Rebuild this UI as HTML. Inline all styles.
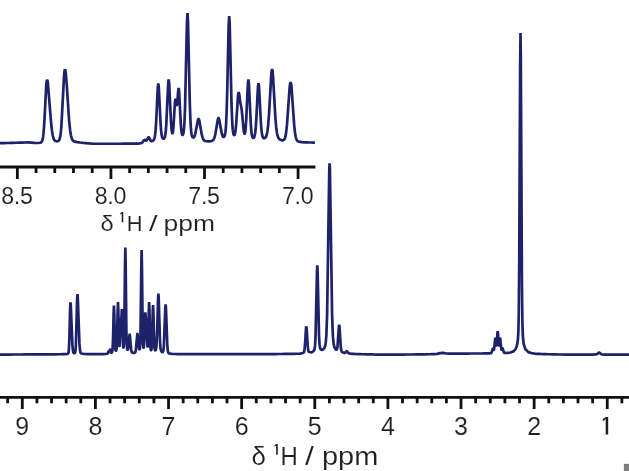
<!DOCTYPE html>
<html lang="en"><head><meta charset="utf-8"><title>1H NMR spectrum</title>
<style>
html,body{margin:0;padding:0;background:#fff;}
body{width:629px;height:471px;overflow:hidden;}
svg{display:block;}
</style></head><body>
<svg width="629" height="471" viewBox="0 0 629 471">
<rect width="629" height="471" fill="#ffffff"/>
<g stroke="#111" stroke-width="2.8" fill="none" stroke-linecap="butt">
<path d="M0 167 H315.4"/>
<path d="M17.35 167 V179.0 M36.06 167 V173.0 M54.78 167 V173.0 M73.50 167 V173.0 M92.21 167 V173.0 M110.93 167 V179.0 M129.64 167 V173.0 M148.35 167 V173.0 M167.07 167 V173.0 M185.78 167 V173.0 M204.50 167 V179.0 M223.22 167 V173.0 M241.93 167 V173.0 M260.65 167 V173.0 M279.36 167 V173.0 M298.08 167 V179.0"/>
<path d="M0 397.3 H629"/>
<path d="M7.68 397.3 V403.3 M22.30 397.3 V409.1 M36.92 397.3 V403.3 M51.55 397.3 V403.3 M66.17 397.3 V403.3 M80.80 397.3 V403.3 M95.42 397.3 V409.1 M110.04 397.3 V403.3 M124.67 397.3 V403.3 M139.29 397.3 V403.3 M153.92 397.3 V403.3 M168.54 397.3 V409.1 M183.16 397.3 V403.3 M197.79 397.3 V403.3 M212.41 397.3 V403.3 M227.04 397.3 V403.3 M241.66 397.3 V409.1 M256.28 397.3 V403.3 M270.91 397.3 V403.3 M285.53 397.3 V403.3 M300.16 397.3 V403.3 M314.78 397.3 V409.1 M329.40 397.3 V403.3 M344.03 397.3 V403.3 M358.65 397.3 V403.3 M373.28 397.3 V403.3 M387.90 397.3 V409.1 M402.52 397.3 V403.3 M417.15 397.3 V403.3 M431.77 397.3 V403.3 M446.40 397.3 V403.3 M461.02 397.3 V409.1 M475.64 397.3 V403.3 M490.27 397.3 V403.3 M504.89 397.3 V403.3 M519.52 397.3 V403.3 M534.14 397.3 V409.1 M548.76 397.3 V403.3 M563.39 397.3 V403.3 M578.01 397.3 V403.3 M592.64 397.3 V403.3 M607.26 397.3 V409.1 M621.88 397.3 V403.3"/>
</g>
<g stroke="#1d226a" stroke-width="2.7" fill="none" stroke-linejoin="bevel" stroke-linecap="butt">
<path d="M-2.00 143.16 L1.00 143.13 L4.00 143.06 L7.00 142.98 L10.00 142.91 L13.00 142.83 L16.10 142.74 L19.10 142.66 L22.10 142.58 L25.20 142.49 L28.20 142.39 L31.20 142.55 L34.30 142.80 L37.40 142.98 L40.10 142.77 L41.00 142.39 L41.50 141.96 L41.90 141.38 L42.30 140.45 L42.70 138.96 L43.10 136.70 L43.60 132.39 L44.30 122.96 L46.20 86.11 L46.50 82.31 L47.01 79.69 L47.50 80.80 L47.90 83.27 L50.90 120.71 L51.90 130.25 L52.70 135.22 L53.40 137.97 L54.00 139.44 L54.60 140.33 L55.40 140.96 L56.80 141.29 L57.90 141.14 L58.50 140.83 L59.00 140.30 L59.40 139.57 L59.80 138.43 L60.30 136.16 L60.80 132.58 L61.40 126.04 L64.00 76.59 L64.40 71.61 L64.90 69.24 L65.40 70.56 L65.80 73.39 L66.80 85.74 L69.10 120.28 L70.10 130.21 L70.90 135.26 L71.60 138.01 L72.20 139.48 L72.90 140.50 L74.00 141.34 L77.10 142.12 L80.10 142.50 L83.20 142.82 L86.30 143.10 L89.40 143.36 L92.40 143.60 L95.50 143.73 L98.60 143.74 L101.70 143.75 L104.80 143.75 L107.90 143.75 L110.90 143.75 L114.00 143.74 L117.10 143.74 L120.20 143.73 L123.20 143.71 L126.30 143.70 L129.40 143.67 L132.50 143.64 L135.60 143.60 L138.70 143.53 L141.40 143.11 L142.20 142.65 L144.10 140.17 L144.40 139.93 L144.70 139.84 L145.00 139.91 L146.00 140.57 L146.30 140.62 L146.50 140.55 L146.80 140.29 L148.20 137.56 L148.40 137.33 L148.60 137.23 L148.80 137.27 L149.00 137.45 L150.50 140.37 L150.90 140.85 L151.30 141.09 L151.80 141.14 L152.80 140.79 L153.50 140.23 L153.90 139.66 L154.30 138.75 L154.70 137.27 L155.10 134.90 L155.60 130.14 L156.20 121.05 L157.70 88.92 L157.80 87.36 L158.30 83.53 L158.80 87.25 L160.60 123.95 L161.10 130.57 L161.50 134.05 L161.90 136.27 L162.30 137.58 L162.60 138.16 L162.90 138.50 L163.20 138.67 L163.50 138.70 L163.80 138.61 L164.10 138.38 L164.40 137.97 L164.70 137.31 L165.00 136.30 L165.40 134.17 L165.80 130.79 L166.30 124.28 L168.10 85.18 L168.20 83.54 L168.70 79.49 L169.20 83.42 L170.90 120.24 L171.40 127.58 L171.80 131.25 L172.00 132.40 L172.20 133.09 L172.30 133.28 L172.40 133.35 L172.50 133.30 L172.60 133.15 L172.80 132.48 L173.10 130.56 L173.50 126.23 L174.90 102.97 L175.10 100.90 L175.30 99.73 L175.40 99.49 L175.50 99.47 L175.60 99.65 L175.80 100.51 L176.40 104.37 L176.60 105.14 L176.70 105.30 L176.80 105.28 L176.90 105.09 L177.10 104.13 L177.40 101.38 L178.10 91.91 L178.65 88.01 L179.10 91.03 L180.80 123.98 L181.30 130.00 L181.70 132.89 L182.00 134.16 L182.20 134.66 L182.40 134.94 L182.50 134.99 L182.60 135.00 L182.70 134.96 L182.90 134.73 L183.10 134.30 L183.40 133.21 L183.70 131.42 L184.10 127.55 L184.50 121.29 L185.00 108.93 L186.90 24.78 L187.00 21.38 L187.50 13.12 L188.00 21.46 L189.80 102.76 L190.30 117.54 L190.80 126.92 L191.20 131.46 L191.60 134.23 L192.00 135.86 L192.40 136.80 L192.80 137.31 L193.10 137.49 L193.40 137.52 L193.70 137.41 L194.10 137.03 L194.60 136.14 L195.20 134.37 L197.80 120.66 L198.10 119.62 L198.30 119.18 L198.40 119.04 L198.50 118.97 L198.60 118.95 L198.70 119.00 L198.90 119.27 L199.20 120.10 L201.90 135.18 L202.70 137.99 L203.40 139.48 L204.10 140.34 L205.30 140.99 L208.40 141.33 L211.50 141.04 L212.60 140.57 L213.30 139.94 L213.90 139.01 L214.50 137.53 L215.30 134.44 L217.70 120.09 L218.00 118.92 L218.20 118.39 L218.40 118.11 L218.50 118.06 L218.60 118.08 L218.70 118.15 L218.90 118.49 L219.20 119.41 L221.60 132.72 L222.30 135.23 L222.80 136.33 L223.20 136.82 L223.50 136.99 L223.80 136.99 L224.10 136.80 L224.40 136.40 L224.70 135.72 L225.00 134.65 L225.30 133.01 L225.70 129.56 L226.10 123.99 L226.60 112.87 L227.30 87.84 L228.60 27.47 L228.70 24.14 L229.20 16.00 L229.70 24.07 L231.50 103.16 L232.00 117.48 L232.40 125.06 L232.80 129.92 L233.20 132.81 L233.50 134.09 L233.70 134.62 L233.90 134.95 L234.10 135.10 L234.20 135.11 L234.40 135.01 L234.60 134.73 L234.90 133.96 L235.20 132.70 L235.60 130.11 L236.20 123.94 L237.90 97.11 L238.20 93.91 L238.65 92.04 L239.20 94.27 L240.20 102.15 L241.40 107.83 L241.90 111.52 L243.50 128.95 L243.90 131.84 L244.20 133.20 L244.40 133.70 L244.50 133.82 L244.60 133.85 L244.70 133.80 L244.80 133.65 L245.00 133.07 L245.30 131.43 L245.70 127.67 L246.30 118.35 L247.80 84.84 L247.90 83.24 L248.40 79.38 L248.90 83.31 L250.70 122.39 L251.20 129.53 L251.60 133.27 L252.00 135.63 L252.30 136.73 L252.60 137.41 L252.90 137.80 L253.20 137.97 L253.50 137.95 L253.80 137.76 L254.10 137.35 L254.40 136.69 L254.80 135.24 L255.20 132.91 L255.70 128.27 L256.40 117.87 L257.80 89.46 L258.00 86.50 L258.50 83.13 L259.00 86.48 L260.90 122.83 L261.50 130.30 L262.00 134.13 L262.40 135.99 L262.80 137.12 L263.20 137.77 L263.60 138.10 L264.10 138.25 L264.70 138.14 L265.30 137.73 L265.80 137.09 L266.30 136.05 L266.80 134.44 L267.40 131.41 L268.10 125.82 L269.00 114.58 L271.20 75.85 L271.60 71.31 L272.10 69.14 L272.60 71.35 L273.00 75.92 L275.40 117.80 L276.20 127.18 L276.90 132.51 L277.50 135.42 L278.10 137.26 L278.80 138.54 L279.80 139.51 L281.80 140.29 L283.00 140.30 L283.60 140.07 L284.10 139.65 L284.60 138.89 L285.10 137.63 L285.60 135.67 L286.20 132.08 L287.00 124.67 L289.60 87.97 L290.00 84.33 L290.10 83.68 L290.60 82.17 L291.10 83.73 L291.50 87.02 L294.20 125.11 L295.00 132.63 L295.70 136.80 L296.30 138.98 L296.90 140.28 L297.50 141.02 L298.70 141.68 L301.80 142.13 L304.90 142.31 L308.00 142.42 L311.10 142.49 L314.10 142.54 L314.90 142.55"/>
<path d="M-2.00 354.59 L1.00 354.59 L4.00 354.57 L7.00 354.55 L10.00 354.54 L13.00 354.52 L16.05 354.51 L19.05 354.49 L22.05 354.48 L25.05 354.46 L28.10 354.44 L31.10 354.43 L34.15 354.41 L37.20 354.39 L40.20 354.38 L43.25 354.36 L46.30 354.34 L49.30 354.32 L52.35 354.30 L55.40 354.28 L58.40 354.25 L61.45 354.21 L64.50 354.15 L67.55 353.83 L68.05 353.56 L68.35 353.06 L68.60 352.05 L68.90 349.26 L69.35 339.09 L70.10 308.63 L70.45 302.38 L70.75 304.66 L72.45 345.53 L73.00 350.84 L73.45 352.54 L73.95 353.16 L74.55 353.22 L74.90 352.95 L75.20 352.23 L75.50 350.49 L75.85 345.87 L77.10 299.69 L77.44 294.09 L77.75 296.80 L79.45 343.91 L80.05 350.62 L80.55 352.69 L81.20 353.50 L84.25 354.00 L87.25 354.10 L90.30 354.14 L93.35 354.14 L96.35 354.14 L99.40 354.12 L102.45 354.08 L105.45 353.99 L107.30 353.77 L107.65 353.41 L108.45 351.39 L108.60 351.28 L108.75 351.37 L109.15 351.98 L109.25 352.02 L109.35 351.94 L110.05 349.46 L110.15 349.38 L110.25 349.48 L111.00 352.41 L111.20 352.72 L111.40 352.79 L111.80 352.50 L112.15 351.79 L112.40 350.63 L112.70 347.35 L113.10 336.64 L113.60 313.65 L113.93 305.45 L114.25 313.10 L115.00 343.58 L115.35 348.93 L115.60 350.33 L115.80 350.74 L115.95 350.80 L116.10 350.70 L116.30 350.24 L116.55 348.80 L116.85 344.51 L117.65 311.39 L117.99 302.14 L118.30 309.62 L119.05 341.71 L119.30 345.78 L119.40 346.34 L119.45 346.40 L119.50 346.30 L119.65 345.06 L120.50 319.62 L120.60 318.60 L120.65 318.55 L120.75 319.22 L121.05 323.03 L121.10 323.30 L121.15 323.35 L121.25 322.70 L121.55 315.69 L121.88 309.14 L122.20 316.70 L122.85 342.25 L123.15 346.79 L123.30 347.60 L123.40 347.76 L123.45 347.75 L123.55 347.51 L123.75 346.15 L124.00 341.89 L124.30 330.03 L125.00 266.18 L125.34 247.58 L125.65 263.83 L126.40 331.75 L126.75 344.19 L127.05 348.15 L127.30 349.40 L127.50 349.79 L127.60 349.84 L127.75 349.76 L128.00 349.17 L128.45 346.39 L129.45 335.30 L129.60 334.64 L129.65 334.57 L129.70 334.59 L129.80 334.87 L131.20 349.75 L131.70 351.89 L132.25 352.66 L134.45 352.84 L135.05 352.47 L135.45 351.75 L135.85 350.07 L137.25 334.58 L137.40 333.91 L137.45 333.85 L137.50 333.87 L137.60 334.17 L138.90 347.75 L139.20 349.08 L139.35 349.36 L139.45 349.42 L139.55 349.38 L139.70 349.10 L139.90 348.18 L140.15 345.49 L140.45 337.55 L141.30 267.50 L141.63 249.95 L141.95 266.42 L142.70 332.16 L143.05 343.84 L143.30 346.95 L143.45 347.69 L143.55 347.86 L143.60 347.86 L143.70 347.69 L143.90 346.59 L144.20 342.50 L145.00 317.45 L145.32 312.46 L145.65 316.18 L146.55 327.68 L147.35 344.87 L147.55 346.63 L147.60 346.79 L147.65 346.83 L147.70 346.75 L147.85 345.74 L148.10 341.16 L148.80 310.53 L149.13 302.05 L149.45 310.00 L150.20 342.63 L150.55 348.40 L150.80 349.85 L150.95 350.17 L151.05 350.23 L151.15 350.18 L151.35 349.74 L151.60 348.27 L151.90 344.10 L152.75 312.36 L153.08 305.14 L153.40 312.11 L154.20 342.84 L154.55 348.16 L154.85 349.87 L155.10 350.36 L155.30 350.44 L155.55 350.30 L155.85 349.74 L156.20 348.20 L156.60 344.21 L157.25 328.70 L158.05 298.86 L158.39 293.64 L158.70 298.01 L160.00 341.48 L160.55 348.50 L161.05 350.80 L161.85 351.95 L162.50 352.17 L162.80 352.03 L163.10 351.55 L163.40 350.37 L163.80 346.80 L165.30 307.60 L165.62 304.35 L165.95 307.90 L167.30 345.21 L167.80 350.76 L168.25 352.59 L168.90 353.34 L171.95 353.85 L175.00 353.98 L178.05 354.04 L181.10 354.08 L184.15 354.10 L187.20 354.11 L190.25 354.12 L193.30 354.12 L196.35 354.13 L199.40 354.13 L202.45 354.13 L205.50 354.13 L208.50 354.13 L211.55 354.13 L214.60 354.13 L217.65 354.13 L220.70 354.13 L223.75 354.12 L226.80 354.12 L229.85 354.12 L232.85 354.12 L235.90 354.11 L238.95 354.11 L242.00 354.11 L245.05 354.10 L248.10 354.10 L251.15 354.09 L254.20 354.09 L257.25 354.08 L260.30 354.07 L263.35 354.07 L266.40 354.06 L269.45 354.05 L272.50 354.04 L275.55 354.03 L278.60 354.01 L281.65 353.99 L284.70 353.97 L287.75 353.95 L290.80 353.91 L293.85 353.85 L296.90 353.77 L299.95 353.60 L303.00 353.01 L303.65 352.51 L304.05 351.74 L304.45 350.02 L305.05 343.98 L306.00 328.17 L306.30 326.33 L306.65 328.74 L307.90 347.86 L308.40 350.92 L308.90 352.03 L311.65 352.31 L313.45 351.21 L314.20 350.01 L314.65 348.42 L315.05 345.39 L315.50 337.97 L317.00 270.70 L317.30 265.20 L317.65 272.45 L319.00 334.90 L319.55 344.65 L320.05 347.95 L320.65 349.33 L321.70 349.95 L323.15 349.48 L324.40 347.93 L325.20 345.72 L325.80 342.18 L326.40 334.55 L327.10 314.81 L329.25 170.85 L329.60 163.32 L329.90 168.91 L332.10 314.91 L332.90 336.40 L333.65 344.15 L334.70 347.94 L336.00 349.61 L336.50 349.73 L336.80 349.53 L337.10 348.89 L337.50 346.86 L338.85 327.13 L339.19 324.79 L339.50 326.74 L340.80 347.23 L341.35 350.69 L341.95 351.98 L344.60 352.98 L345.40 352.64 L346.60 351.21 L346.85 351.17 L348.70 353.34 L351.75 353.78 L354.80 353.95 L357.85 354.07 L360.90 354.17 L363.95 354.25 L367.00 354.33 L370.05 354.40 L373.10 354.47 L376.10 354.53 L379.15 354.59 L382.20 354.61 L385.25 354.60 L388.30 354.59 L391.35 354.58 L394.40 354.57 L397.45 354.56 L400.50 354.54 L403.55 354.53 L406.60 354.52 L409.65 354.50 L412.70 354.49 L415.75 354.47 L418.80 354.46 L421.85 354.41 L424.90 354.33 L427.95 354.26 L431.00 354.17 L434.05 354.07 L437.10 353.82 L440.10 353.13 L443.15 352.87 L446.20 353.51 L449.25 353.70 L452.30 353.68 L455.35 353.63 L458.40 353.57 L461.45 353.53 L464.50 353.53 L467.55 353.53 L470.60 353.52 L473.65 353.51 L476.70 353.50 L479.75 353.49 L482.80 353.46 L485.85 353.42 L488.90 353.34 L491.10 353.04 L491.55 352.56 L492.75 348.66 L492.90 348.49 L493.00 348.50 L493.65 349.85 L493.75 349.93 L493.85 349.90 L494.00 349.58 L494.30 347.80 L495.10 339.05 L495.25 338.35 L495.30 338.29 L495.35 338.32 L495.50 338.89 L496.20 345.23 L496.35 345.76 L496.40 345.79 L496.50 345.61 L496.70 344.25 L497.35 334.14 L497.70 331.23 L498.00 333.41 L498.75 344.66 L498.90 345.55 L499.00 345.74 L499.05 345.71 L499.20 345.17 L499.95 338.52 L500.05 338.22 L500.10 338.19 L500.20 338.40 L501.25 348.75 L501.45 349.58 L501.55 349.75 L501.65 349.78 L501.85 349.52 L502.35 348.38 L502.45 348.31 L502.55 348.34 L502.80 348.86 L503.75 352.14 L504.30 352.78 L507.35 352.90 L510.40 352.52 L513.45 351.38 L515.45 349.34 L516.75 346.22 L517.60 342.09 L518.05 337.70 L518.40 330.49 L518.75 314.43 L519.20 266.48 L520.15 65.19 L520.50 32.92 L520.80 57.05 L521.95 286.99 L522.40 322.97 L522.85 336.25 L523.65 343.74 L525.30 349.08 L528.35 352.10 L531.40 353.08 L534.45 353.53 L537.50 353.78 L540.55 353.96 L543.60 354.08 L546.65 354.19 L549.65 354.27 L552.70 354.35 L555.75 354.42 L558.80 354.49 L561.85 354.52 L564.90 354.53 L567.95 354.54 L571.00 354.54 L574.05 354.55 L577.10 354.55 L580.15 354.56 L583.20 354.56 L586.25 354.56 L589.30 354.55 L592.35 354.54 L595.40 354.46 L597.30 353.95 L598.85 352.60 L599.30 352.67 L601.65 354.35 L604.70 354.53 L607.75 354.56 L610.80 354.57 L613.85 354.57 L616.90 354.58 L619.95 354.58 L623.00 354.58 L626.05 354.58 L629.10 354.58 L630.95 354.58"/>
</g>
<g font-family="'Liberation Sans', sans-serif" fill="#1f1f1f" stroke="#ffffff" stroke-width="0.12">
<text x="16.9" y="203.5" font-size="23.2" letter-spacing="-0.3" text-anchor="middle">8.5</text>
<text x="110.4" y="203.5" font-size="23.2" letter-spacing="-0.3" text-anchor="middle">8.0</text>
<text x="204.0" y="203.5" font-size="23.2" letter-spacing="-0.3" text-anchor="middle">7.5</text>
<text x="297.6" y="203.5" font-size="23.2" letter-spacing="-0.3" text-anchor="middle">7.0</text>
<text y="230.5" font-size="21.8"><tspan x="100.60" textLength="13.20" lengthAdjust="spacingAndGlyphs">δ</tspan><tspan> </tspan></text><clipPath id="c1"><rect x="120.30" y="211.30" width="3.67" height="11.00"/></clipPath><text x="117.33" y="224.53" font-size="17.77" stroke="none" clip-path="url(#c1)">1</text><text y="230.5" font-size="21.8"><tspan x="126.81" textLength="15.77" lengthAdjust="spacingAndGlyphs">H</tspan><tspan> </tspan><tspan x="148.90" textLength="8.60" lengthAdjust="spacingAndGlyphs">/</tspan><tspan> </tspan><tspan x="163.49" textLength="51.45" lengthAdjust="spacingAndGlyphs">ppm</tspan></text>
<text x="22.3" y="434.6" font-size="25" text-anchor="middle">9</text>
<text x="95.4" y="434.6" font-size="25" text-anchor="middle">8</text>
<text x="168.5" y="434.6" font-size="25" text-anchor="middle">7</text>
<text x="241.7" y="434.6" font-size="25" text-anchor="middle">6</text>
<text x="314.8" y="434.6" font-size="25" text-anchor="middle">5</text>
<text x="387.9" y="434.6" font-size="25" text-anchor="middle">4</text>
<text x="461.0" y="434.6" font-size="25" text-anchor="middle">3</text>
<text x="534.1" y="434.6" font-size="25" text-anchor="middle">2</text>
<clipPath id="c9"><rect x="602.8" y="415.5" width="5.9" height="19.0"/></clipPath><text x="597.95" y="437.3" font-size="30.3" clip-path="url(#c9)">1</text>
<text y="464.7" font-size="25.2"><tspan x="251.51" textLength="14.38" lengthAdjust="spacingAndGlyphs">δ</tspan><tspan> </tspan></text><clipPath id="c2"><rect x="274.60" y="442.80" width="3.80" height="11.90"/></clipPath><text x="271.26" y="457.04" font-size="19.24" stroke="none" clip-path="url(#c2)">1</text><text y="464.7" font-size="25.2"><tspan x="280.43" textLength="17.32" lengthAdjust="spacingAndGlyphs">H</tspan><tspan> </tspan><tspan x="305.10" textLength="8.90" lengthAdjust="spacingAndGlyphs">/</tspan><tspan> </tspan><tspan x="321.93" textLength="56.38" lengthAdjust="spacingAndGlyphs">ppm</tspan></text>
</g>
<rect x="624" y="464" width="5" height="7" fill="#808080"/><path d="M624.25 471 V464.25 H629" stroke="#747474" stroke-width="0.5" fill="none"/>
</svg>
</body></html>
